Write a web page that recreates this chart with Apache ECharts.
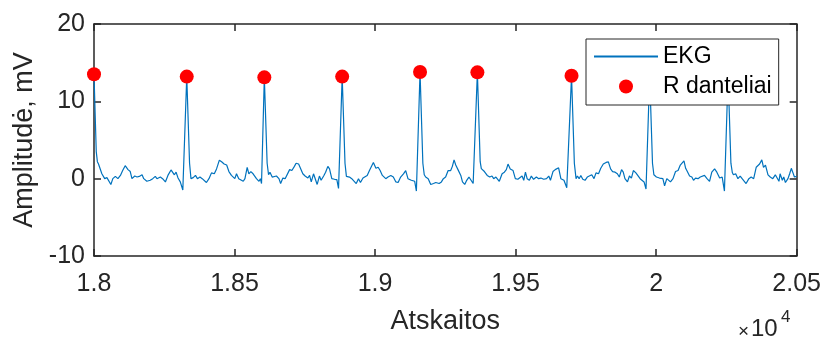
<!DOCTYPE html>
<html>
<head>
<meta charset="utf-8">
<script src="https://cdn.jsdelivr.net/npm/echarts@6/dist/echarts.min.js"></script>
<style>
  html, body { margin: 0; padding: 0; background: #fff; }
  #chart { width: 824px; height: 340px; }
</style>
</head>
<body>
<div id="chart"></div>
<script>
// ECG segment: sample index and amplitude (mV)
const ekgSamples = [
  18000,18004,18008,18012,18016,18019,18028,18038,18046,18052,18060,18067,18076,18085,18094,18102,18111,18121,18129,18135,
  18145,18153,18161,18171,18177,18188,18200,18209,18218,18224,18236,18244,18254,18263,18274,18280,18286,18292,18299,18307,18316,
  18330,18340,18345,18353,18361,18368,18377,18385,18392,18400,18409,18418,18428,18436,18446,18454,18463,18472,18480,18489,
  18495,18501,18507,18515,18522,18531,18537,18545,18551,18558,18566,18572,18578,18587,18592,18596,
  18606,18616,18621,18626,18634,18641,18649,18658,18664,18672,18680,18687,18696,18704,18713,18719,18728,18735,18743,18751,
  18761,18767,18773,18781,18787,18794,18802,18808,18817,18824,18832,18838,18846,18856,18864,18870,
  18883,18893,18898,18903,18909,18917,18924,18933,18941,18948,18957,18964,18972,18980,18986,18994,19003,19011,19018,19026,
  19032,19038,19046,19056,19065,19074,19082,19091,19101,19109,19117,19124,19129,19136,19141,19147,
  19160,19170,19175,19180,19189,19198,19208,19216,19228,19236,19243,19251,19260,19269,19275,19281,19287,19295,19305,19311,
  19319,19326,19334,19340,19349,
  19364,19374,19378,19381,19389,19399,19408,19416,19422,19430,19436,19442,19452,19460,19467,19473,19481,19491,19499,19508,
  19515,19523,19529,19535,19541,19549,19556,19564,19574,19582,19590,19600,19610,19618,19624,19633,19641,19647,19653,19661,
  19668,19672,19682,
  19699,19709,19715,19720,19726,19732,19739,19747,19755,19762,19771,19779,19786,19795,19803,19812,19822,19830,19838,19845,
  19854,19862,19869,19877,19883,19889,19898,19905,19912,19919,19928,19934,19943,19949,19957,19964,
  19977,19987,19992,19995,20001,20006,20012,20018,20024,20030,20038,20045,20051,20060,20069,20078,20086,20093,20099,20105,
  20111,20119,20127,20133,20140,20149,20157,20164,20172,20181,20190,20198,20208,20216,20226,20235,20243,
  20256,20266,20271,20275,20283,20291,20299,20306,20313,20320,20330,20338,20347,20356,20362,20368,20376,20382,20389,20398,
  20406,20415,20424,20430,20437,20441,20449,20454,20460,20469,20475,20481,20486,20492,20500
];
const ekgMillivolts = [
  13.5,8.5,3.5,2.2,1.9,1.68,0.63,0,0.13,-0.08,-0.75,0,0.29,0,0.42,1.05,1.68,1.17,0.92,0,
  0.34,0.21,0.29,0.5,0,-0.34,-0.21,0,0.29,0,0.21,0,-0.42,0.42,1.13,1.26,0.5,0.84,0.08,-0.42,-1.47,
  13.2,2.0,0,0.13,0.42,0,0.21,0,0.08,-0.5,0,0.75,0.63,1.26,2.39,2.18,1.89,1.76,0.92,0.42,
  0.5,0,0.63,0,0.21,-0.34,0,1.47,0.63,0.92,0.63,0.84,0,-0.34,0,-0.63,
  13.1,2.0,0.5,0.84,0.21,0,0.34,0,-0.63,0.08,0,-0.21,1.17,1.05,1.59,2.0,1.89,2.0,0.63,0.34,
  0.08,0.42,-0.42,0.63,0.75,-0.75,0.34,-0.21,0.34,0.84,1.59,1.26,0,-0.08,-0.13,-1.26,
  13.2,2.0,0.3,0.13,0.21,0,0.21,-0.63,0,-0.5,0.08,0,0.42,1.05,0.84,2.1,1.34,1.47,1.05,0.42,
  0.63,0,0.21,0.42,0.21,-0.42,-0.5,0.21,0.63,1.05,0,0,-0.21,-0.13,-0.34,-1.6,
  13.8,2.0,0.5,0.21,0,-0.75,-0.63,-0.5,-0.63,-0.42,0,0.21,1.05,1.05,1.59,2.43,1.76,1.17,0.42,-0.42,
  -0.75,-0.21,0.21,0.34,-0.63,
  13.75,2.2,1.3,1.17,0.92,0.42,0.21,0.34,0,0.21,0,-0.34,0.63,0.84,1.17,1.89,1.26,1.05,0,-0.08,
  -0.21,0.34,-0.21,0.84,0,-0.21,0.34,-0.08,0.21,0,0.08,-0.08,0,0.34,-0.21,0.92,1.17,1.0,1.4,0,
  0.21,-0.21,-1.17,
  13.3,2.0,0,0.34,0,0.42,-0.08,-0.21,0.21,0,0.5,0,0.75,0.63,1.34,1.89,2.1,2.18,1.26,0.92,
  0.84,0.63,0.21,1.17,0.84,0,-0.42,0.34,0.08,1.05,0.75,0.84,0,0.21,-0.42,-1.34,
  13.4,2.0,0.5,0.42,0.21,0,0.08,-0.08,0,-0.92,0,0.21,-0.42,0,0.92,1.05,1.76,1.89,2.3,1.34,
  0.92,0.34,0.21,-0.21,0.08,0,0.21,0,0.42,0,-0.34,0.84,1.26,0.84,0.08,0.21,-1.6,
  13.4,2.0,0.8,0.5,0.63,0,0.34,0,0.08,-0.63,0,0.21,0,1.47,1.26,1.89,2.43,1.47,1.76,0.5,
  0.21,0,0.5,0.75,-0.34,0.63,-0.21,0.21,-0.5,0,0.63,1.34,0.84,0.21,0.3
];

// Detected R peaks
const rPeakSamples   = [18000, 18330, 18606, 18883, 19160, 19364, 19699];
const rPeakMillivolts = [13.5, 13.2, 13.1, 13.2, 13.8, 13.75, 13.3];

// Axis ticks
const xTicks = [18000, 18500, 19000, 19500, 20000, 20500];
const yTicks = [-10, 0, 10, 20];

const ink = '#262626';
const font = 'Liberation Sans, Arial, Helvetica, sans-serif';

const ekgData = ekgSamples.map((s, i) => [s, ekgMillivolts[i]]);
const peakData = rPeakSamples.map((s, i) => [s, rPeakMillivolts[i]]);

const chart = echarts.init(document.getElementById('chart'), null, { renderer: 'canvas' });

const frameAxis = {
  axisLine: { show: true, onZero: false, lineStyle: { color: ink, width: 1.5 } },
  axisTick: { show: true, inside: true, length: 7, lineStyle: { color: ink, width: 1.5 } },
  splitLine: { show: false }
};

chart.setOption({
  animation: false,
  backgroundColor: '#fff',
  textStyle: { fontFamily: font, color: ink },
  grid: { left: 94, right: 27, top: 24, bottom: 78, containLabel: false },
  xAxis: [
    Object.assign({}, frameAxis, {
      type: 'value', position: 'bottom',
      min: xTicks[0], max: xTicks[xTicks.length - 1], interval: 500,
      axisLabel: {
        show: true, margin: 16, fontSize: 25, color: ink, fontFamily: font,
        formatter: v => String(+(v / 10000).toFixed(2))
      },
      name: 'Atskaitos', nameLocation: 'middle', nameGap: 52,
      nameTextStyle: { fontSize: 27, color: ink, fontFamily: font }
    }),
    Object.assign({}, frameAxis, {
      type: 'value', position: 'top',
      min: xTicks[0], max: xTicks[xTicks.length - 1], interval: 500,
      axisLabel: { show: false }
    })
  ],
  yAxis: [
    Object.assign({}, frameAxis, {
      type: 'value', position: 'left',
      min: yTicks[0], max: yTicks[yTicks.length - 1], interval: 10,
      axisLabel: { show: true, margin: 9, fontSize: 25, color: ink, fontFamily: font },
      name: 'Amplitudė, mV', nameLocation: 'middle', nameGap: 51, nameRotate: 90,
      nameTextStyle: { fontSize: 27, color: ink, fontFamily: font }
    }),
    Object.assign({}, frameAxis, {
      type: 'value', position: 'right',
      min: yTicks[0], max: yTicks[yTicks.length - 1], interval: 10,
      axisLabel: { show: false }
    })
  ],
  legend: {
    orient: 'vertical',
    left: 586, top: 39,
    z: 20,
    padding: [6, 7, 7, 7],
    itemGap: 7,
    itemWidth: 64, itemHeight: 14,
    backgroundColor: '#fff',
    borderColor: ink, borderWidth: 1, borderRadius: 0,
    textStyle: { fontSize: 23, color: '#000', fontFamily: font },
    data: [
      { name: 'EKG', itemStyle: { opacity: 0 } },
      { name: 'R danteliai' }
    ]
  },
  graphic: [
    { type: 'text', left: 738, top: 322, z: 10,
      style: { text: '×', fontSize: 19, fill: ink, fontFamily: font } },
    { type: 'text', left: 751, top: 317, z: 10,
      style: { text: '10', fontSize: 24, fill: ink, fontFamily: font } },
    { type: 'text', left: 781, top: 309, z: 10,
      style: { text: '4', fontSize: 17, fill: ink, fontFamily: font } }
  ],
  series: [
    {
      name: 'EKG', type: 'line', data: ekgData,
      symbol: 'none', showSymbol: false,
      lineStyle: { color: '#0072BD', width: 1.2 },
      itemStyle: { color: '#0072BD' },
      clip: true, z: 2
    },
    {
      name: 'R danteliai', type: 'scatter', data: peakData,
      symbol: 'circle', symbolSize: 14,
      itemStyle: { color: '#FF0000', opacity: 1 },
      z: 3
    }
  ]
});
</script>
</body>
</html>
